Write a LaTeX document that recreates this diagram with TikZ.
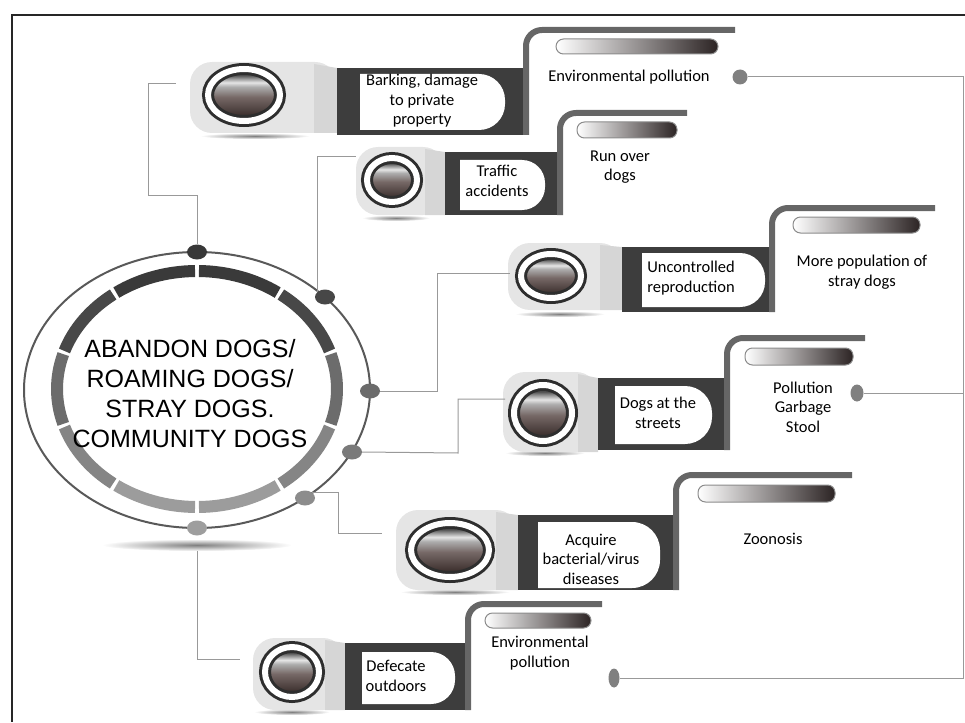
\documentclass[tikz,border=0pt]{standalone}
\usepackage{fontspec}
\setmainfont{Carlito}
\newfontfamily\hubfont{Liberation Sans}
\usetikzlibrary{shapes.geometric}

\definecolor{ringa}{RGB}{58,58,58}
\definecolor{ringb}{RGB}{72,72,72}
\definecolor{ringc}{RGB}{108,108,108}
\definecolor{ringd}{RGB}{133,133,133}
\definecolor{ringe}{RGB}{156,156,156}
\definecolor{balldark}{RGB}{62,50,48}
\definecolor{ballmid}{RGB}{118,104,102}
\definecolor{pillmid}{RGB}{140,126,123}
\definecolor{pilldark}{RGB}{44,36,36}
\pgfdeclareverticalshading{ballshade}{100bp}{color(0bp)=(balldark); color(31bp)=(balldark); color(48bp)=(ballmid); color(58bp)=(black!32); color(62bp)=(black!10); color(66bp)=(black!42); color(69bp)=(black!68); color(100bp)=(black!68)}

\tikzset{
  frame/.style={draw=black!85, line width=1.5pt},
  conn/.style={draw=black!40, line width=1pt},
  seg/.style={line width=12pt},
  hubtext/.style={align=center, inner sep=0pt, font=\hubfont\fontsize{25}{30}\selectfont},
  hubdot/.style={ellipse, inner sep=0pt, minimum width=20, minimum height=15},
  enddot/.style={ellipse, inner sep=0pt, fill=black!50},
  button/.style={ellipse, inner sep=0pt, draw=black!82, line width=3pt, double=white, double distance=6pt, shading=ballshade},
  halo/.style={fill=black!10, rounded corners=22pt},
  fold/.style={fill=black!16},
  btnshadow/.style={inner color=black!50, outer color=white},
  darkbox/.style={fill=black!76},
  labelbox/.style={fill=white},
  tabbar/.style={draw=black!60, line width=6pt, rounded corners=16pt},
  pill/.style={draw=black!45, line width=1pt, rounded corners=7.5pt, left color=white, middle color=pillmid, right color=pilldark},
  labeltext/.style={align=center, inner sep=0pt, font=\fontsize{16.5}{19.5}\selectfont},
}

\begin{document}
\begin{tikzpicture}[x=1pt, y=-1pt]
        \useasboundingbox (0,0) rectangle (965,722) ;
        \draw[frame] (965,15) -- (12,15) -- (12,722) ;

        % hub
        \draw[black!65, line width=2pt] (197,390) ellipse [x radius=173, y radius=138] ;
        \draw[seg, ringa] (197,389) ++(234.8:140 and 118) arc[start angle=234.8, end angle=269.2, x radius=140, y radius=118] ;
        \draw[seg, ringa] (197,389) ++(270.8:140 and 118) arc[start angle=270.8, end angle=305.2, x radius=140, y radius=118] ;
        \draw[seg, ringb] (197,389) ++(198.8:140 and 118) arc[start angle=198.8, end angle=233.2, x radius=140, y radius=118] ;
        \draw[seg, ringb] (197,389) ++(306.8:140 and 118) arc[start angle=306.8, end angle=341.2, x radius=140, y radius=118] ;
        \draw[seg, ringc] (197,389) ++(162.8:140 and 118) arc[start angle=162.8, end angle=197.2, x radius=140, y radius=118] ;
        \draw[seg, ringc] (197,389) ++(342.8:140 and 118) arc[start angle=342.8, end angle=377.2, x radius=140, y radius=118] ;
        \draw[seg, ringd] (197,389) ++(126.8:140 and 118) arc[start angle=126.8, end angle=161.2, x radius=140, y radius=118] ;
        \draw[seg, ringd] (197,389) ++(18.8:140 and 118) arc[start angle=18.8, end angle=53.2, x radius=140, y radius=118] ;
        \draw[seg, ringe] (197,389) ++(90.8:140 and 118) arc[start angle=90.8, end angle=125.2, x radius=140, y radius=118] ;
        \draw[seg, ringe] (197,389) ++(54.8:140 and 118) arc[start angle=54.8, end angle=89.2, x radius=140, y radius=118] ;
        \node[hubtext] (hub) at (190,394) {ABANDON DOGS/\\ROAMING DOGS/\\STRAY DOGS.\\COMMUNITY DOGS} ;
        \node[ellipse, minimum width=190, minimum height=12, inner color=black!50, outer color=white] (shadow) at (197,545) {} ;
        \node[hubdot, fill=black!78] (d1) at (197,252) {} ;
        \node[hubdot, fill=black!72] (d2) at (325,297) {} ;
        \node[hubdot, fill=black!58] (d3) at (370,391) {} ;
        \node[hubdot, fill=black!52] (d4) at (352,452) {} ;
        \node[hubdot, fill=black!45] (d5) at (305,498) {} ;
        \node[hubdot, fill=black!38] (d6) at (197,528) {} ;

        % barking
        \shade[btnshadow] (255,136) ellipse [x radius=55, y radius=3] ;
        \fill[halo] (190,62) rectangle (337,133) ;
        \fill[fold] (314,64) -- (337,68) -- (337,133) -- (314,133) -- cycle ;
        \node[button, minimum width=72, minimum height=52] (b1) at (244,95) {} ;
        \fill[darkbox] (337,68) rectangle (527,135) ;
        \fill[labelbox] (360,74) [rounded corners=26pt] -- (505,74) -- (505,130) [sharp corners] -- (360,130) -- cycle ;
        \node[labeltext] (t1) at (422,101) {Barking, damage\\to private\\property} ;
        \draw[tabbar] (526,135) -- (526,30) -- (735,30) ;
        \draw[pill] (556,39) rectangle (718,54) ;
        \node[labeltext] (r1) at (629,77) {Environmental pollution} ;
        \node[enddot, minimum width=15, minimum height=15] (o1) at (740,77) {} ;

        % traffic
        \shade[btnshadow] (396,218) ellipse [x radius=34, y radius=3] ;
        \fill[halo] (356,147) rectangle (445,215) ;
        \fill[fold] (425,149) -- (445,152) -- (445,215) -- (425,215) -- cycle ;
        \node[button, minimum width=50, minimum height=44] (b2) at (392,180) {} ;
        \fill[darkbox] (445,152) rectangle (563,215) ;
        \fill[labelbox] (460,160) [rounded corners=23pt] -- (545,160) -- (545,210) [sharp corners] -- (460,210) -- cycle ;
        \node[labeltext] (t2) at (497,181) {Traffic\\accidents} ;
        \draw[tabbar] (560,215) -- (560,113) -- (687,113) ;
        \draw[pill] (577,122) rectangle (677,138) ;
        \node[labeltext] (r2) at (620,167) {Run over\\dogs} ;

        % reproduction
        \shade[btnshadow] (560,314) ellipse [x radius=45, y radius=3] ;
        \fill[halo] (508,243) rectangle (622,310) ;
        \fill[fold] (600,245) -- (622,247) -- (622,310) -- (600,310) -- cycle ;
        \node[button, minimum width=60, minimum height=44] (b3) at (551,276) {} ;
        \fill[darkbox] (622,247) rectangle (772,312) ;
        \fill[labelbox] (642,253) [rounded corners=25pt] -- (765,253) -- (765,307) [sharp corners] -- (642,307) -- cycle ;
        \node[labeltext] (t3) at (691,278) {Uncontrolled\\reproduction} ;
        \draw[tabbar] (772,312) -- (772,208) -- (935,208) ;
        \draw[pill] (793,217) rectangle (920,233) ;
        \node[labeltext] (r3) at (862,272) {More population of\\stray dogs} ;

        % streets
        \shade[btnshadow] (545,453) ellipse [x radius=40, y radius=3] ;
        \fill[halo] (503,372) rectangle (598,452) ;
        \fill[fold] (578,374) -- (598,378) -- (598,452) -- (578,452) -- cycle ;
        \node[button, minimum width=58, minimum height=56] (b4) at (543,413) {} ;
        \fill[darkbox] (598,378) rectangle (727,450) ;
        \fill[labelbox] (615,386) [rounded corners=27pt] -- (712,386) -- (712,444) [sharp corners] -- (615,444) -- cycle ;
        \node[labeltext] (t4) at (658,413) {Dogs at the\\streets} ;
        \draw[tabbar] (727,450) -- (727,338) -- (865,338) ;
        \draw[pill] (745,348) rectangle (853,365) ;
        \node[labeltext] (r4) at (803,407) {Pollution\\Garbage\\Stool} ;
        \node[enddot, minimum width=13, minimum height=17] (o4) at (857,393) {} ;

        % diseases
        \shade[btnshadow] (455,592) ellipse [x radius=55, y radius=3] ;
        \fill[halo] (396,510) rectangle (518,590) ;
        \fill[fold] (496,512) -- (518,515) -- (518,590) -- (496,590) -- cycle ;
        \node[button, minimum width=78, minimum height=54] (b5) at (450,550) {} ;
        \fill[darkbox] (518,515) rectangle (678,590) ;
        \fill[labelbox] (538,522) [rounded corners=28pt] -- (660,522) -- (660,588) [sharp corners] -- (538,588) -- cycle ;
        \node[labeltext] (t5) at (591,559) {Acquire\\bacterial/virus\\diseases} ;
        \draw[tabbar] (676,590) -- (676,475) -- (852,475) ;
        \draw[pill] (698,485) rectangle (835,502) ;
        \node[labeltext] (r5) at (773,539) {Zoonosis} ;

        % outdoors
        \shade[btnshadow] (292,712) ellipse [x radius=38, y radius=3] ;
        \fill[halo] (253,638) rectangle (345,710) ;
        \fill[fold] (325,640) -- (345,643) -- (345,710) -- (325,710) -- cycle ;
        \node[button, minimum width=54, minimum height=50] (b6) at (292,672) {} ;
        \fill[darkbox] (345,643) rectangle (468,710) ;
        \fill[labelbox] (362,652) [rounded corners=24pt] -- (455,652) -- (455,704) [sharp corners] -- (362,704) -- cycle ;
        \node[labeltext] (t6) at (396,676) {Defecate\\outdoors} ;
        \draw[tabbar] (468,710) -- (468,604) -- (602,604) ;
        \draw[pill] (485,613) rectangle (591,628) ;
        \node[labeltext] (r6) at (540,653) {Environmental\\pollution} ;
        \node[enddot, minimum width=11, minimum height=19] (o6) at (614,678) {} ;

        % connectors
        \coordinate (h1) at (176,84) ;
        \coordinate (h2) at (356,157) ;
        \coordinate (h3) at (510,273) ;
        \coordinate (h4) at (505,399) ;
        \coordinate (h5) at (382,533) ;
        \coordinate (h6) at (240,659) ;
        \draw[conn] (d1.north) |- (148,195) |- (h1) ;
        \draw[conn] (d2.north west) |- (h2) ;
        \draw[conn] (d3.east) -- (437,391) |- (h3) ;
        \draw[conn] (d4.east) -- (458,453) |- (h4) ;
        \draw[conn] (d5.north east) -| (338,533) -- (h5) ;
        \draw[conn] (shadow.south) |- (h6) ;

        \coordinate (e1) at (963.5,77) ;
        \coordinate (e6) at (963.5,678) ;
        \draw[conn] (o1) -- (e1) -- (e6) -- (o6) ;
        \draw[conn] (o4) -- (o4 -| e1) ;
\end{tikzpicture}
\end{document}
